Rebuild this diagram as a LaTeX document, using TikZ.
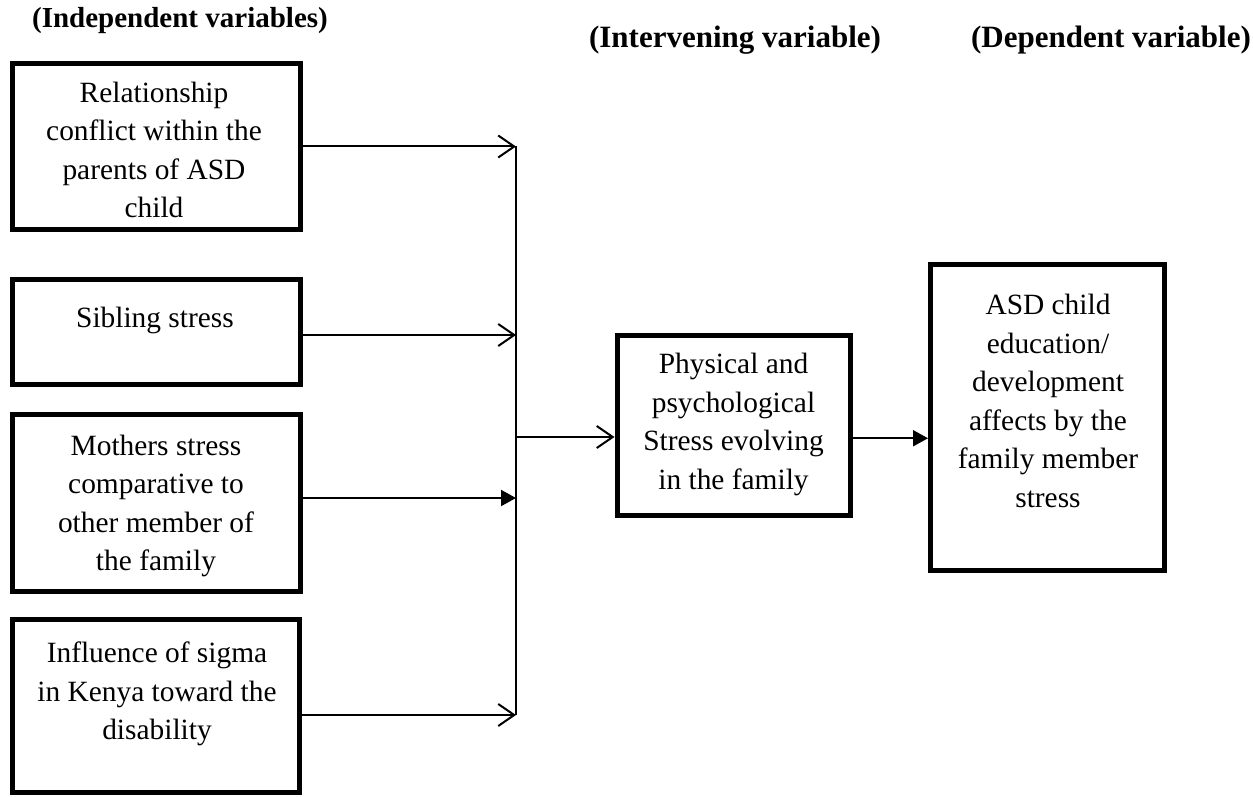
\documentclass[tikz,border=0pt]{standalone}
\usepackage{fontspec}
\setmainfont{Liberation Serif}
\usetikzlibrary{arrows.meta}
\begin{document}
\begin{tikzpicture}[x=0.5pt,y=-0.5pt,
  box/.style={draw, line width=2.5pt, inner sep=0pt},
  txt/.style={align=center, font=\fontsize{14.7}{19.3}\selectfont, inner sep=0pt},
  head/.style={font=\fontsize{15.5}{18}\selectfont\bfseries, inner sep=0pt},
  conn/.style={line width=1pt},
  openarrow/.style={conn, -{Straight Barb[length=8pt,width=11pt]}},
  fillarrow/.style={conn, -{Triangle[length=7.5pt,width=8pt]}}]
\useasboundingbox (0,0) rectangle (1253,797);

% headers
\node[head, font=\fontsize{14.5}{18}\selectfont\bfseries] (h1) at (180,21) {(Independent variables)};
\node[head] (h2) at (735,40) {(Intervening variable)};
\node[head] (h3) at (1111,40) {(Dependent variable)};

% boxes
\node[box, minimum width=144pt, minimum height=82.5pt] (b1) at (156,146.5) {};
\node[box, minimum width=144pt, minimum height=52.5pt] (b2) at (156,332) {};
\node[box, minimum width=144pt, minimum height=88.5pt] (b3) at (156,503) {};
\node[box, minimum width=143.5pt, minimum height=86.5pt] (b4) at (155.5,706) {};
\node[box, minimum width=116.5pt, minimum height=89.75pt] (b5) at (733.5,425.25) {};
\node[box, minimum width=117pt, minimum height=153.25pt] (b6) at (1047.5,417.25) {};

% texts
\node[txt] (t1) at (154,150) {Relationship\\conflict within the\\parents of ASD\\child};
\node[txt] (t2) at (155,320) {Sibling stress};
\node[txt] (t3) at (156,506) {Mothers stress\\comparative to\\other member of\\the family};
\node[txt] (t4) at (157,694) {Influence of sigma\\in Kenya toward the\\disability};
\node[txt] (t5) at (733.5,424.5) {Physical and\\psychological\\Stress evolving\\in the family};
\node[txt] (t6) at (1048,401) {ASD child\\education/\\development\\affects by the\\family member\\stress};

% spine
\coordinate (spTop) at (516,146);
\coordinate (spBot) at (516,715);
\coordinate (spMid) at (516,437);
\draw[conn] (spTop) -- (spBot);

\coordinate (a1) at (b1.east);
\coordinate (a2) at ([yshift=-1.5pt]b2.east);
\coordinate (a3) at ([yshift=2.5pt]b3.east);
\coordinate (a4) at ([yshift=-4.5pt]b4.east);
\draw[openarrow] (a1) -- (a1 -| spTop);
\draw[openarrow] (a2) -- (a2 -| spTop);
\draw[fillarrow] (a3) -- (a3 -| spTop);
\draw[openarrow] (a4) -- (a4 -| spTop);

\draw[openarrow] (spMid) -- (spMid -| b5.west);
\coordinate (a5) at ([yshift=-6.5pt]b5.east);
\draw[fillarrow] (a5) -- (a5 -| b6.west);
\end{tikzpicture}
\end{document}
